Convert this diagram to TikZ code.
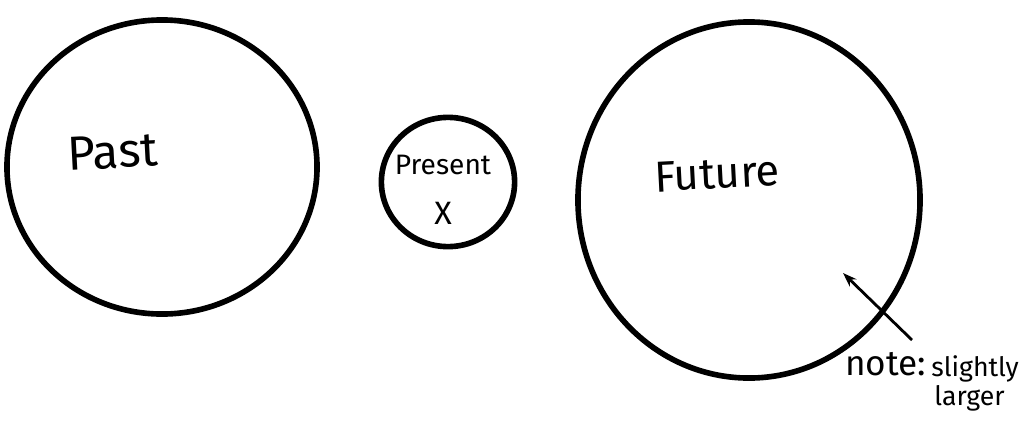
\documentclass[tikz,border=0pt]{standalone}
\usepackage{fontspec}
\setmainfont{Fira Sans}
\usepackage{tikz}
\usetikzlibrary{arrows.meta,shapes.geometric}
\tikzset{
  ring/.style   ={draw, ellipse, line width=4pt, inner sep=0pt},
  lbl/.style    ={font=\fontsize{#1}{#1}\selectfont, inner sep=0pt},
  lbl/.default=26pt,
  arr/.style    ={-{Stealth[length=10pt,width=7pt]}, line width=2pt},
}

\begin{document}
\begin{tikzpicture}[x=0.025cm, y=-0.025cm]
  \useasboundingbox (0,0) rectangle (1021,421);
  % the three rings
  \node[ring, minimum width=7.75cm, minimum height=7.35cm] (past)    at (162,167) {};
  \node[ring, minimum width=3.33cm, minimum height=3.23cm] (present) at (448,182) {};
  \node[ring, minimum width=8.55cm, minimum height=8.9cm]  (future)  at (749,200) {};

  \node[lbl=34pt, rotate=3] (pastlbl) at (113,152) {Past};
  \node[lbl=20pt] (preslbl) at (443,165) {Present};
  \node[lbl=23pt] (xlbl) at (443,213) {X};
  \node[lbl=31pt, rotate=3] (futlbl) at (717,174) {Future};

  % note on the size of the future
  \node[lbl=25pt, anchor=west] (note) at (845,364) {note:};
  \node[lbl=19pt, anchor=west] (slight) at (931,369) {slightly};
  \node[lbl=19pt, anchor=north west] (large) at (934,385) {larger};
  \coordinate (tip)  at (843,273);
  \coordinate (tail) at (912,340);
  \draw[arr] (tail) -- (tip);
\end{tikzpicture}
\end{document}
